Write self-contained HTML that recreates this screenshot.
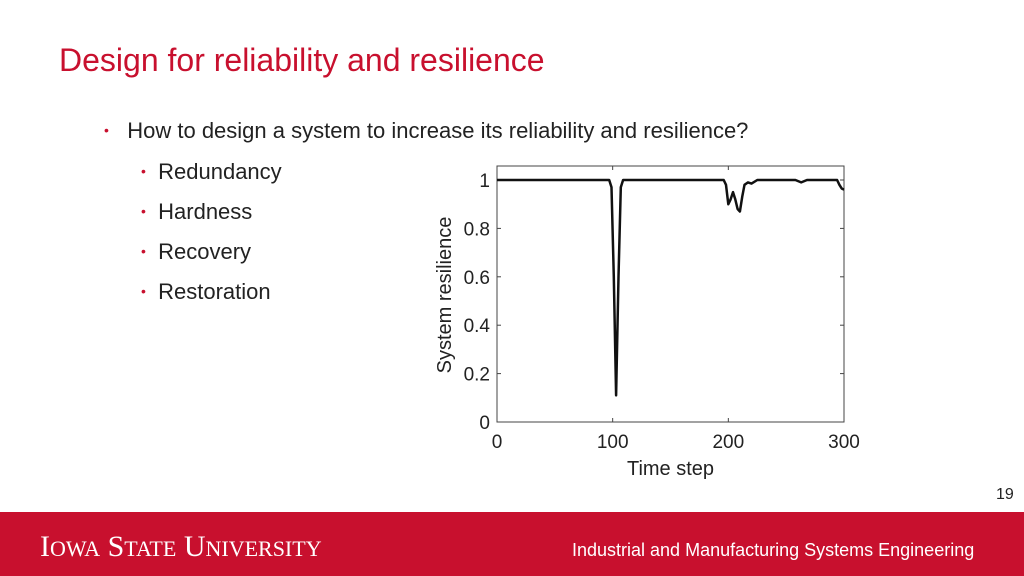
<!DOCTYPE html>
<html><head><meta charset="utf-8"><style>
body{margin:0;width:1024px;height:576px;position:relative;background:#fff;font-family:"Liberation Sans",sans-serif;overflow:hidden}
.t{position:absolute;white-space:nowrap}
</style></head><body>
<div class="t" style="left:59px;top:42px;font-size:32px;color:#c8102e">Design for reliability and resilience</div>
<div class="t" style="left:104px;top:118px;font-size:22px;color:#222"><span style="font-size:14px;color:#c8102e;position:relative;top:-3px">•</span>&nbsp;&nbsp;&nbsp;How to design a system to increase its reliability and resilience?</div>
<div class="t" style="left:141px;top:159px;font-size:22px;color:#222"><span style="font-size:14px;color:#c8102e;position:relative;top:-3px">•</span>&nbsp;&nbsp;Redundancy</div>
<div class="t" style="left:141px;top:199px;font-size:22px;color:#222"><span style="font-size:14px;color:#c8102e;position:relative;top:-3px">•</span>&nbsp;&nbsp;Hardness</div>
<div class="t" style="left:141px;top:239px;font-size:22px;color:#222"><span style="font-size:14px;color:#c8102e;position:relative;top:-3px">•</span>&nbsp;&nbsp;Recovery</div>
<div class="t" style="left:141px;top:279px;font-size:22px;color:#222"><span style="font-size:14px;color:#c8102e;position:relative;top:-3px">•</span>&nbsp;&nbsp;Restoration</div>
<svg id="chart" width="1024" height="576" style="position:absolute;left:0;top:0"></svg>
<div class="t" style="left:996px;top:486px;font-size:16px;color:#222">19</div>
<div style="position:absolute;left:0;top:512px;width:1024px;height:64px;background:#c8102e">
<div class="t" style="left:40px;top:18px;font-family:'Liberation Serif',serif;font-size:30px;color:#fff;letter-spacing:0px">I<span style="font-size:22px">OWA</span> S<span style="font-size:22px">TATE</span> U<span style="font-size:22px">NIVERSITY</span></div>
<div class="t" style="left:572px;top:28px;font-size:18px;color:#fff">Industrial and Manufacturing Systems Engineering</div>
</div>
<script>
const xs=[0,97,99,101,103,105,107,109,196,198,200,202,204,206,208,210,212,214,217,220,225,258,263,268,294,296,298,300];
const ys=[1,1,0.97,0.6,0.11,0.6,0.97,1,1,0.98,0.9,0.92,0.95,0.92,0.88,0.87,0.93,0.98,0.99,0.985,1,1,0.99,1,1,0.98,0.965,0.96];
const xTicks=[0,100,200,300];
const yTicks=[0,0.2,0.4,0.6,0.8,1];
const L=497,R=844,T=166,B=422;
const sx=v=>L+(v-0)/300*(R-L);
const sy=v=>B-v*(B-180);
const svg=document.getElementById('chart');
const ns='http://www.w3.org/2000/svg';
function mk(t,a){const e=document.createElementNS(ns,t);for(const k in a)e.setAttribute(k,a[k]);svg.appendChild(e);return e;}
const box=mk('rect',{x:L,y:T,width:R-L,height:B-T,fill:'none',stroke:'#444','stroke-width':1});


xTicks.forEach(v=>{
  const l=mk('line',{x1:sx(v),x2:sx(v),y1:B,y2:B-4,stroke:'#444'});
  
  
  const l2=mk('line',{x1:sx(v),x2:sx(v),y1:T,y2:T+4,stroke:'#444'});
  
  
  const t=mk('text',{x:sx(v),y:B+26,'text-anchor':'middle','font-size':19,fill:'#222','font-family':'Liberation Sans, sans-serif'});
  t.textContent=v;
  
  
});
yTicks.forEach(v=>{
  const l=mk('line',{x1:L,x2:L+4,y1:sy(v),y2:sy(v),stroke:'#444'});
  
  
  const l2=mk('line',{x1:R,x2:R-4,y1:sy(v),y2:sy(v),stroke:'#444'});
  
  
  const t=mk('text',{x:L-7,y:sy(v)+7,'text-anchor':'end','font-size':19,fill:'#222','font-family':'Liberation Sans, sans-serif'});
  t.textContent=v;
  
  
});
let d='';xs.forEach((x,i)=>{d+=(i?'L':'M')+sx(x).toFixed(1)+','+sy(ys[i]).toFixed(1);});
const p=mk('path',{d:d,fill:'none',stroke:'#111','stroke-width':2.5,'stroke-linejoin':'round'});


const xt=mk('text',{x:(L+R)/2,y:475,'text-anchor':'middle','font-size':20,fill:'#222','font-family':'Liberation Sans, sans-serif'});
xt.textContent='Time step';


const yt=mk('text',{x:0,y:0,'text-anchor':'middle','font-size':20,fill:'#222','font-family':'Liberation Sans, sans-serif',transform:'translate(451,295) rotate(-90)'});
yt.textContent='System resilience';


</script>
</body></html>
